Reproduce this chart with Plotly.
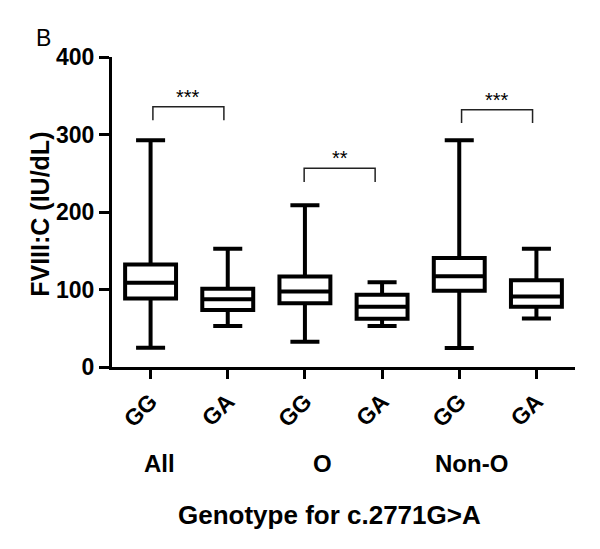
import plotly.graph_objects as go

# ---- data ----
positions = [1, 2, 3, 4, 5, 6]
genotypes = ["GG", "GA", "GG", "GA", "GG", "GA"]
groups = ["All", "O", "Non-O"]
group_x = [1.12, 3.23, 5.16]
upper = [292.7, 152.6, 208.7, 109.5, 292.7, 152.6]
q3 = [132.3, 100.9, 116.8, 93.1, 140.5, 112.0]
median = [108.7, 87.5, 97.4, 77.6, 117.2, 90.9]
q1 = [88.4, 73.7, 82.3, 62.1, 98.3, 77.6]
lower = [25.0, 53.0, 32.7, 53.0, 24.6, 62.5]

# significance brackets
sig_x1 = [1.03, 2.99, 5.03]
sig_x2 = [1.95, 3.91, 5.95]
sig_top = [335.8, 256.5, 331.9]
sig_leg = [318.5, 238.8, 314.7]
sig_text = ["***", "**", "***"]

yticks = [0, 100, 200, 300, 400]

FONT = "Liberation Sans, Arial, sans-serif"

fig = go.Figure()
fig.add_trace(go.Box(
    x=positions, q1=q1, median=median, q3=q3,
    lowerfence=lower, upperfence=upper,
    width=0.66, whiskerwidth=0.57,
    fillcolor="white", line=dict(color="black", width=4),
    boxpoints=False, hoverinfo="skip", showlegend=False,
))

for a, b, t, l, s in zip(sig_x1, sig_x2, sig_top, sig_leg, sig_text):
    fig.add_trace(go.Scatter(
        x=[a, a, b, b], y=[l, t, t, l], mode="lines",
        line=dict(color="#222", width=1.5), showlegend=False, hoverinfo="skip",
    ))
    fig.add_annotation(x=(a + b) / 2, y=t, xref="x", yref="y", text=s,
                       showarrow=False, yanchor="bottom", yshift=-3,
                       font=dict(family=FONT, size=20, color="black"))

for gx, g in zip(group_x, groups):
    fig.add_annotation(x=gx, y=0, xref="x", yref="paper", text="<b>" + g + "</b>",
                       showarrow=False, yanchor="middle", yshift=-96,
                       font=dict(family=FONT, size=24, color="black"))

fig.add_annotation(x=3.32, y=0, xref="x", yref="paper",
                   text="<b>Genotype for c.2771G>A</b>", showarrow=False,
                   yanchor="middle", yshift=-148,
                   font=dict(family=FONT, size=26, color="black"))

fig.add_annotation(x=0, y=0.491, xref="paper", yref="paper",
                   text="<b>FVIII:C (IU/dL)</b>", textangle=-90, showarrow=False,
                   xanchor="center", yanchor="middle", xshift=-72,
                   font=dict(family=FONT, size=25, color="black"))

fig.add_annotation(x=0, y=1, xref="paper", yref="paper", text="B",
                   showarrow=False, xanchor="center", yanchor="middle",
                   xshift=-69, yshift=19,
                   font=dict(family=FONT, size=23, color="black"))

fig.update_layout(
    width=600, height=549,
    margin=dict(l=104, r=33, t=49, b=190),
    paper_bgcolor="white", plot_bgcolor="white",
    showlegend=False,
    xaxis=dict(
        range=[0.5, 6.5], tickmode="array", tickvals=positions,
        ticktext=["<b>" + g + "</b>" for g in genotypes],
        tickangle=-45, ticks="outside", ticklen=9, tickwidth=3, tickcolor="black",
        showline=True, linewidth=3, linecolor="black", showgrid=False, zeroline=False,
        tickfont=dict(family=FONT, size=23, color="black"),
    ),
    yaxis=dict(
        range=[0, 400], tickmode="array", tickvals=yticks,
        ticktext=["<b>%d</b>" % v for v in yticks],
        ticks="outside", ticklen=10, tickwidth=3, tickcolor="black",
        showline=True, linewidth=3, linecolor="black", showgrid=False, zeroline=False,
        tickfont=dict(family=FONT, size=23, color="black"),
    ),
)

fig.write_html("out.html")
